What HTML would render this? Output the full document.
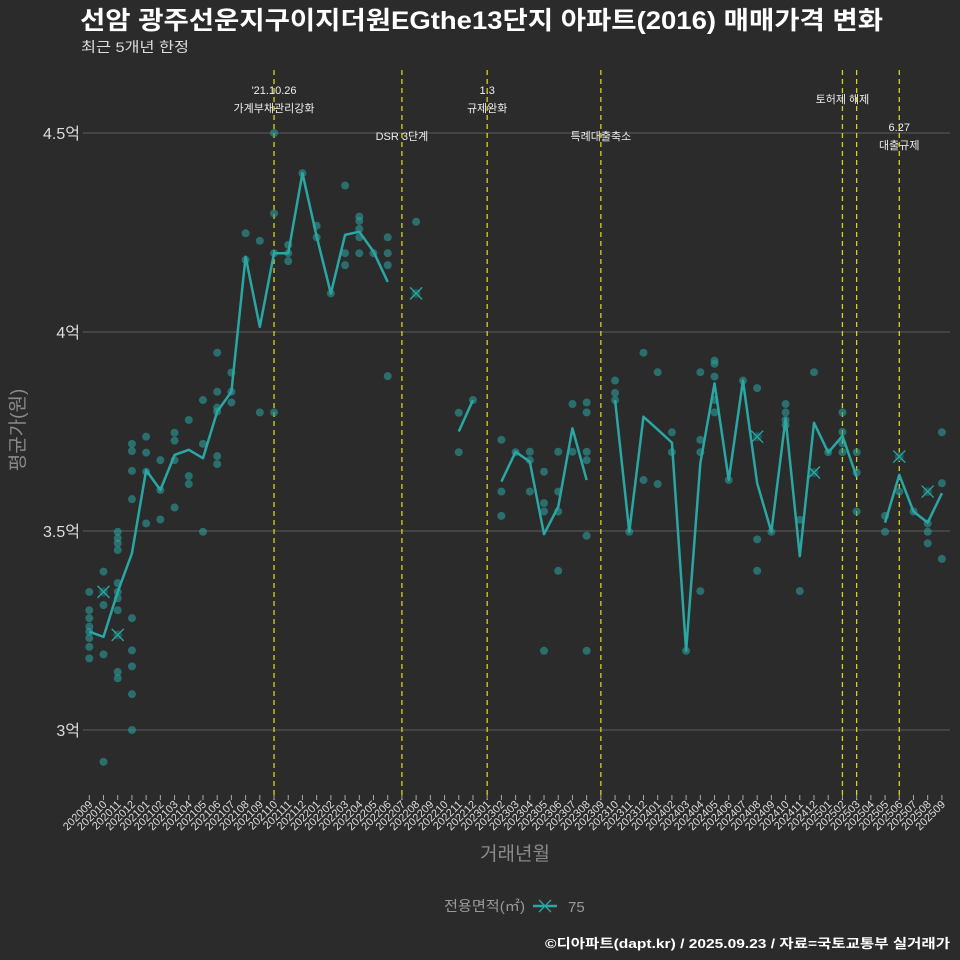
<!DOCTYPE html>
<html><head><meta charset="utf-8">
<style>
body{margin:0;background:#2b2b2b;}
svg{display:block;font-family:"Liberation Sans","Noto Sans CJK KR",sans-serif;}
</style></head>
<body>
<svg id="chart" width="960" height="960" viewBox="0 0 960 960">
<rect x="0" y="0" width="960" height="960" fill="#2b2b2b"/>
<text x="80" y="29" fill="#ffffff" font-size="25" font-weight="bold" textLength="803" lengthAdjust="spacingAndGlyphs">선암 광주선운지구이지더원EGthe13단지 아파트(2016) 매매가격 변화</text>
<text x="81" y="52" fill="#dddddd" font-size="14" textLength="108" lengthAdjust="spacingAndGlyphs">최근 5개년 한정</text>
<g id="grid"></g>
<g id="vlines"></g>
<g id="dots"></g>
<g id="lines"></g>
<g id="marks"></g>
<g id="xaxis"></g>
<text transform="translate(24,430) rotate(-90)" text-anchor="middle" fill="#8a8a8a" font-size="19">평균가(원)</text>
<text x="515" y="860" text-anchor="middle" fill="#8a8a8a" font-size="19">거래년월</text>
<g>
<text x="444" y="911" fill="#9a9a9a" font-size="14" textLength="81" lengthAdjust="spacingAndGlyphs">전용면적(㎡)</text>
<line x1="533" y1="906" x2="557" y2="906" stroke="#2aa7a4" stroke-width="2.5"/>
<path d="M539 900 L551 912 M551 900 L539 912" stroke="#2aa7a4" stroke-width="1.3"/>
<text x="568" y="912" fill="#9a9a9a" font-size="15">75</text>
</g>
<text x="950" y="948" text-anchor="end" fill="#ffffff" font-size="13" font-weight="bold" textLength="405" lengthAdjust="spacingAndGlyphs">©디아파트(dapt.kr) / 2025.09.23 / 자료=국토교통부 실거래가</text>
</svg>
<script>
const months=[];
for(let y=2020,m=9;months.length<61;){months.push(y+String(m).padStart(2,'0'));m++;if(m>12){m=1;y++;}}
const yTicks=[3,3.5,4,4.5];
const yTickLabels=['3억','3.5억','4억','4.5억'];
const avgPrice=[3.247,3.234,3.347,3.444,3.653,3.603,3.691,3.704,3.683,3.800,3.850,4.189,4.013,4.198,4.198,4.399,4.240,4.097,4.244,4.252,4.202,4.126,null,4.097,null,null,3.750,3.829,null,3.624,3.699,3.674,3.492,3.561,3.758,3.628,null,3.829,3.498,3.787,3.755,3.722,3.199,3.670,3.871,3.628,3.878,3.620,3.498,3.783,3.437,3.772,3.697,3.739,3.636,null,3.521,3.641,3.549,3.521,3.595];
const dealMonth=[0,0,0,0,0,0,0,0,1,1,1,1,1,2,2,2,2,2,2,2,2,2,2,2,3,3,3,3,3,3,3,3,3,4,4,4,4,5,5,5,6,6,6,6,7,7,7,8,8,8,9,9,9,9,9,9,10,10,10,11,11,12,12,13,13,13,13,14,14,14,15,16,16,17,18,18,18,19,19,19,19,19,20,21,21,21,21,23,23,26,26,27,29,29,29,30,31,31,31,32,32,32,32,33,33,33,33,34,34,35,35,35,35,35,35,37,37,37,38,39,39,40,40,41,41,42,43,43,43,43,44,44,44,44,44,45,46,47,47,47,47,48,49,49,49,49,50,50,51,51,52,53,53,53,53,54,54,54,56,56,57,57,58,59,59,59,59,60,60,60];
const dealPrice=[3.347,3.301,3.281,3.260,3.247,3.231,3.209,3.18,3.398,3.347,3.314,3.19,2.92,3.498,3.482,3.469,3.452,3.369,3.347,3.331,3.301,3.239,3.146,3.13,3.09,3.719,3.701,3.651,3.580,3.281,3.2,3.16,3.0,3.737,3.697,3.649,3.519,3.678,3.603,3.529,3.747,3.727,3.678,3.559,3.779,3.638,3.618,3.829,3.719,3.498,3.948,3.850,3.810,3.800,3.688,3.668,3.898,3.850,3.823,4.248,4.181,4.229,3.798,4.5,4.298,4.198,3.798,4.219,4.198,4.178,4.399,4.267,4.238,4.097,4.368,4.198,4.168,4.290,4.279,4.259,4.238,4.198,4.198,4.238,4.198,4.168,3.889,4.097,4.277,3.797,3.698,3.829,3.729,3.599,3.538,3.698,3.699,3.678,3.599,3.649,3.570,3.549,3.199,3.699,3.599,3.549,3.400,3.819,3.699,3.823,3.798,3.699,3.678,3.488,3.199,3.878,3.847,3.829,3.498,3.948,3.628,3.899,3.618,3.748,3.698,3.199,3.899,3.729,3.698,3.349,3.928,3.920,3.888,3.829,3.798,3.628,3.878,3.859,3.737,3.479,3.400,3.498,3.819,3.798,3.779,3.766,3.528,3.349,3.899,3.647,3.698,3.798,3.749,3.720,3.698,3.698,3.647,3.549,3.538,3.498,3.687,3.599,3.549,3.599,3.519,3.498,3.469,3.748,3.620,3.430];
const xMarkMonth=[1,2,23,47,51,57,59];
const xMarkPrice=[3.347,3.239,4.097,3.737,3.647,3.687,3.599];
const eventMonth=[13,22,28,36,53,54,57];
const eventLine1=["'21.10.26","","1.3","","","","6.27"];
const eventLine2=["가계부채관리강화","DSR 3단계","규제완화","특례대출축소","토허제 해제","","대출규제"];
const eventLabelY=[90,136,90,136,99,0,127];

const NS='http://www.w3.org/2000/svg';
function X(i){return 89.3+i*14.21;}
function Y(v){return 133+(4.5-v)*398;}
function mk(tag,attrs,parent){const e=document.createElementNS(NS,tag);for(const k in attrs)e.setAttribute(k,attrs[k]);parent.appendChild(e);return e;}
const grid=document.getElementById('grid');
yTicks.forEach((t,i)=>{
  const l=mk('line',{x1:83,x2:950,y1:Y(t),y2:Y(t),stroke:'#5e5e5e','stroke-width':1},grid);
  
  
  const tx=mk('text',{x:80,y:Y(t)+6,'text-anchor':'end',fill:'#dddddd','font-size':16},grid);
  tx.textContent=yTickLabels[i];
  
  
});
const vl=document.getElementById('vlines');
eventMonth.forEach((m,i)=>{
  const l=mk('line',{x1:X(m),x2:X(m),y1:70,y2:800,stroke:'#d4d41e','stroke-width':1.3,'stroke-dasharray':'5,4'},vl);
  
  
  if(eventLine2[i]){
    const cx=X(m);
    if(eventLine1[i]){
      const t1=mk('text',{x:cx,y:eventLabelY[i]+4,'text-anchor':'middle',fill:'#eeeeee','font-size':11},vl);
      t1.textContent=eventLine1[i];
      
      
      const t2=mk('text',{x:cx,y:eventLabelY[i]+22,'text-anchor':'middle',fill:'#eeeeee','font-size':11},vl);
      t2.textContent=eventLine2[i];
      
      
    }else{
      const t2=mk('text',{x:cx,y:eventLabelY[i]+4,'text-anchor':'middle',fill:'#eeeeee','font-size':11},vl);
      t2.textContent=eventLine2[i];
      
      
    }
  }
});
const dots=document.getElementById('dots');
dealMonth.forEach((m,i)=>{
  const c=mk('circle',{cx:X(m),cy:Y(dealPrice[i]),r:4,fill:'#2a9d9a','fill-opacity':0.6},dots);
  
  
});
const lines=document.getElementById('lines');
let seg=[];
function flush(){
  if(seg.length>1){
    const p=mk('polyline',{points:seg.join(' '),fill:'none',stroke:'#2aa7a4','stroke-width':2.5,'stroke-linejoin':'round'},lines);
    
    
  }
  seg=[];
}
avgPrice.forEach((v,i)=>{if(v==null){flush();}else{seg.push(X(i)+','+Y(v));}});
flush();
const marks=document.getElementById('marks');
xMarkMonth.forEach((m,i)=>{
  const x=X(m),y=Y(xMarkPrice[i]);
  const c=mk('circle',{cx:x,cy:y,r:4.5,fill:'#1f5a58'},marks);
  
  
  const p=mk('path',{d:`M${x-6} ${y-6}L${x+6} ${y+6}M${x+6} ${y-6}L${x-6} ${y+6}`,stroke:'#2aa7a4','stroke-width':1.3},marks);
  
  
});
const xa=document.getElementById('xaxis');
months.forEach((mo,i)=>{
  const x=X(i);
  const t=mk('line',{x1:x,x2:x,y1:795,y2:800,stroke:'#aaaaaa','stroke-width':1},xa);
  
  
  const tx=mk('text',{x:0,y:0,'text-anchor':'end',fill:'#dddddd','font-size':11,transform:`translate(${x+4},${805}) rotate(-45)`},xa);
  tx.textContent=mo;
  
  
});
</script>
</body></html>
